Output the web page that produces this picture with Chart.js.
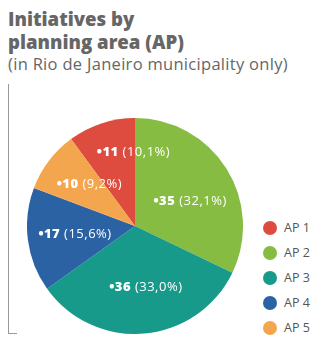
<!DOCTYPE html>
<html>
<head>
<meta charset="utf-8">
<script src="https://cdn.jsdelivr.net/npm/chart.js@4"></script>
<style>
  html, body { margin: 0; padding: 0; background: #fff; }
  body { width: 336px; height: 350px; position: relative; overflow: hidden; font-family: 'Open Sans', sans-serif; color: #6b6b6b; }
  .title { position: absolute; left: 8px; top: 7px; font-weight: 800; font-size: 18.6px; line-height: 23px; color: #666; white-space: nowrap; }
  .subtitle { position: absolute; left: 8px; top: 52px; font-size: 16.5px; letter-spacing: 0.3px; color: #666; white-space: nowrap; }
  .axis { position: absolute; left: 8px; top: 84px; width: 8px; height: 249px; border-left: 1px solid #999; border-bottom: 1px solid #999; }
  .chart-box { position: absolute; left: 27px; top: 118px; width: 216px; height: 216px; }
  .legend { position: absolute; left: 263px; top: 215px; }
  .legend div { height: 25px; display: flex; align-items: center; font-size: 12.5px; color: #555; }
  .legend span { display: inline-block; width: 14px; height: 14px; border-radius: 50%; margin-right: 7px; }
</style>
</head>
<body>
<div class="title">Initiatives by<br>planning area (AP)</div>
<div class="subtitle">(in Rio de Janeiro municipality only)</div>
<div class="axis"></div>
<div class="chart-box"><canvas id="pieChart"></canvas></div>
<div class="legend" id="legend"></div>

<script>
// Data
const areas = ['AP 1', 'AP 2', 'AP 3', 'AP 4', 'AP 5'];
const initiatives = [11, 35, 36, 17, 10];
const areaColors = ['#DE4C40', '#86BC42', '#189A8B', '#2A62A4', '#F3A64D'];

const total = initiatives.reduce((a, b) => a + b, 0);

// slice labels: bold count + share in brackets
const sliceLabels = {
    id: 'sliceLabels',
    afterDatasetsDraw(chart) {
        const ctx = chart.ctx;
        const arcs = chart.getDatasetMeta(0).data;
        const tweak = [17, 8, -5, 0, 5]; // angle nudge in degrees
        const rf = [0.68, 0.56, 0.58, 0.56, 0.57];
        ctx.save();
        ctx.fillStyle = '#fff';
        ctx.textBaseline = 'middle';
        ctx.letterSpacing = '0.5px';
        arcs.forEach((arc, i) => {
            const p = arc.getProps(['x', 'y', 'startAngle', 'endAngle', 'outerRadius'], true);
            const mid = (p.startAngle + p.endAngle) / 2 + tweak[i] * Math.PI / 180;
            const r = p.outerRadius * rf[i];
            const cx = p.x + Math.cos(mid) * r;
            const cy = p.y + Math.sin(mid) * r;
            const bold = '\u2022' + initiatives[i];
            const pct = ' (' + (initiatives[i] / total * 100).toFixed(1).replace('.', ',') + '%)';
            ctx.font = '800 13px "Open Sans"';
            const wb = ctx.measureText(bold).width;
            ctx.font = '13px "Open Sans"';
            const wp = ctx.measureText(pct).width;
            let x = cx - (wb + wp) / 2;
            ctx.font = '800 13px "Open Sans"';
            ctx.fillText(bold, x, cy);
            ctx.font = '13px "Open Sans"';
            ctx.fillText(pct, x + wb, cy);
        });
        ctx.restore();
    }
};

new Chart(document.getElementById('pieChart').getContext('2d'), {
    type: 'pie',
    data: {
        labels: areas,
        datasets: [{ data: initiatives, backgroundColor: areaColors, borderWidth: 0 }]
    },
    options: {
        responsive: true,
        maintainAspectRatio: false,
        animation: false,
        rotation: -(initiatives[0] / total) * 360,
        plugins: { legend: { display: false }, tooltip: { enabled: false } }
    },
    plugins: [sliceLabels]
});

document.getElementById('legend').innerHTML = areas.map((a, i) =>
    `<div><span style="background:${areaColors[i]}"></span>${a}</div>`).join('');
</script>
</body>
</html>
